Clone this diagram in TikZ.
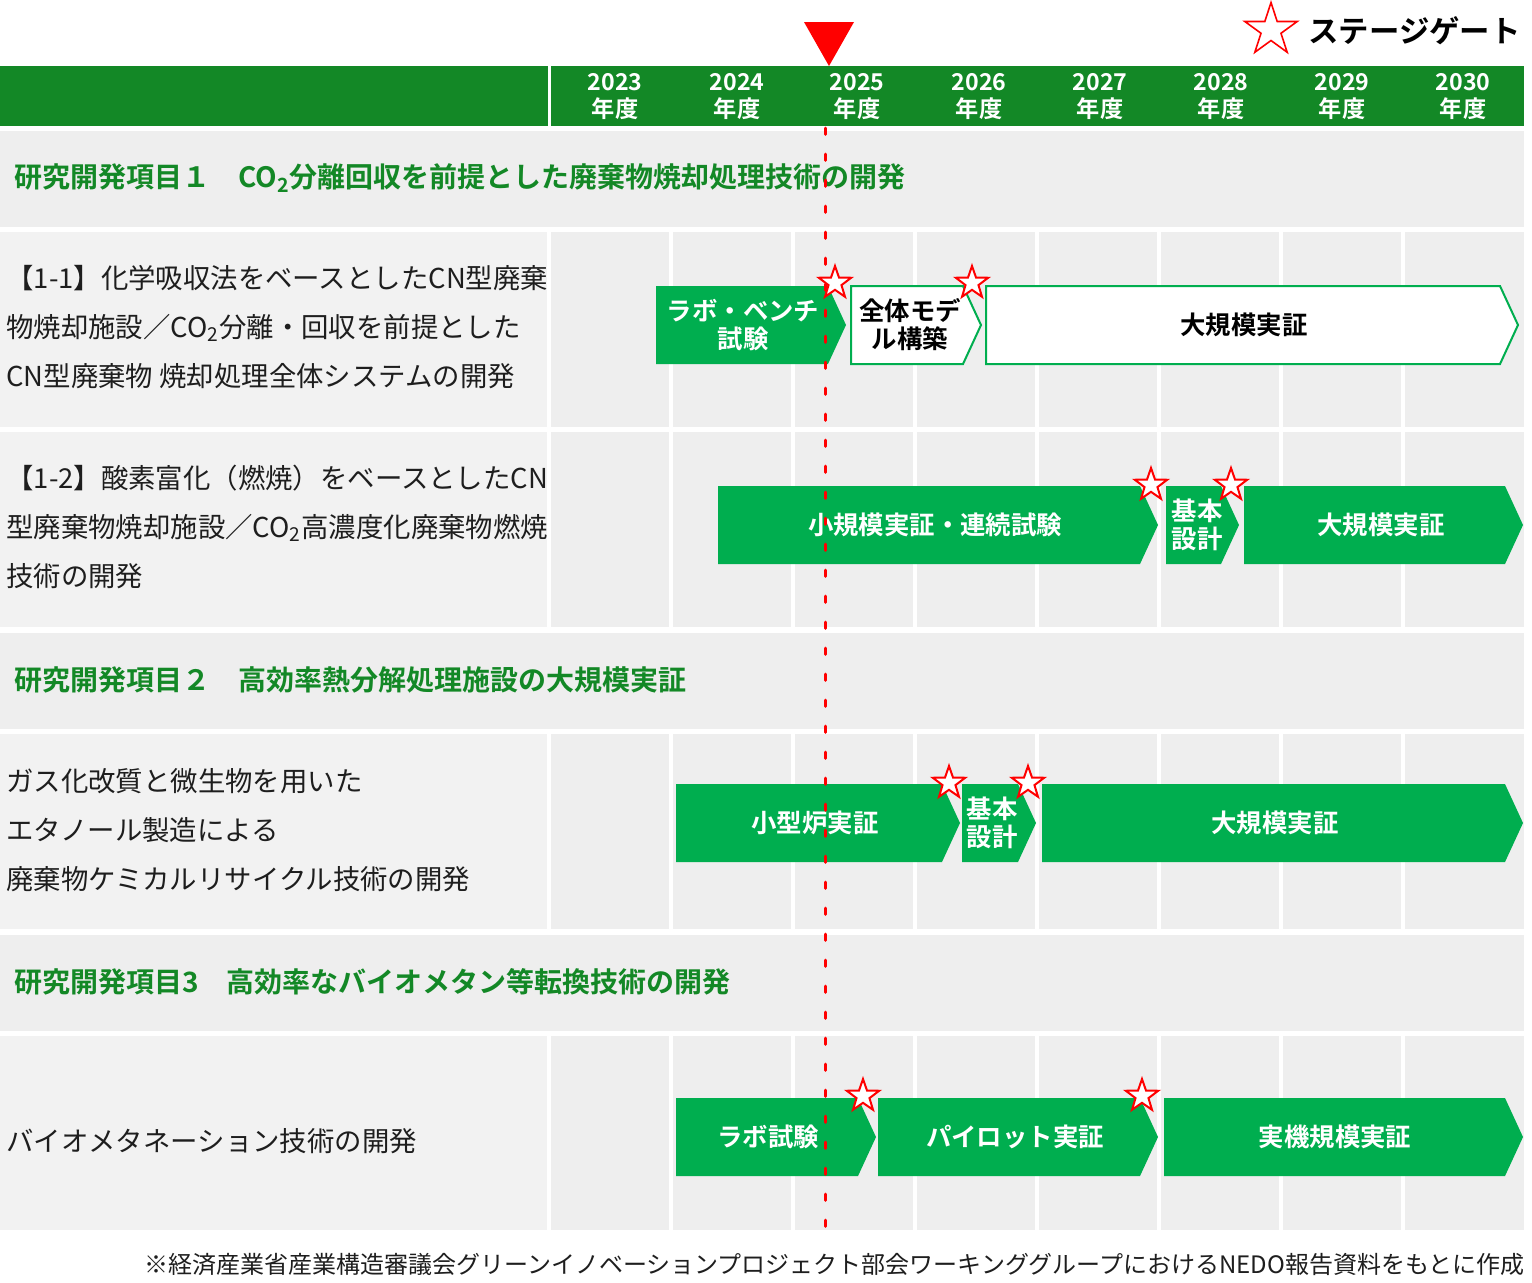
\documentclass[tikz,border=0pt]{standalone}
\usepackage{fontspec}
\setmainfont{Noto Sans CJK JP}[BoldFont={Noto Sans CJK JP Bold}]
\usetikzlibrary{shapes.geometric}
\definecolor{hdr}{RGB}{19,136,38}
\definecolor{barg}{RGB}{0,174,79}
\definecolor{rowg}{RGB}{238,238,238}
\definecolor{leftg}{RGB}{242,242,242}
\definecolor{txt}{RGB}{30,30,30}
\newcommand{\chevpath}[5]{%
  \path[#1] (#2,#4) -- ({#3-18},#4) -- (#3,{(#4+#5)/2}) -- ({#3-18},#5) -- (#2,#5) -- cycle;}
\begin{document}
\begin{tikzpicture}[x=0.5pt,y=-0.5pt,
  gbar/.style={fill=barg},
  wbar/.style={fill=white,draw=barg,line width=1pt},
  btxt/.style={font=\bfseries\fontsize{12.7}{14}\selectfont,text=white,align=center,inner sep=0pt},
  wtxt/.style={btxt,text=black},
  gate/.style={star,star points=5,star point ratio=2.5,draw=red,fill=white,line width=1pt,minimum size=17pt,inner sep=0pt},
  yr/.style={font=\bfseries\fontsize{11.6}{13.5}\selectfont,text=white,align=center,inner sep=0pt},
  sect/.style={font=\bfseries\fontsize{14}{16}\selectfont,text=hdr,anchor=west,inner sep=0pt},
  desc/.style={font=\fontsize{13.7}{24.5}\selectfont,text=txt,anchor=west,align=left,inner sep=0pt},
  gridline/.style={white,line width=2pt},
]
\useasboundingbox[fill=white] (0,0) rectangle (1532,1282);
% header
\fill[hdr] (0,66) rectangle (1524,126);
\draw[white,line width=1.5pt] (549,66) -- (549,126);
% section rows
\foreach \a/\b in {131/227,633/729,935/1031}{
  \fill[rowg] (0,\a) rectangle (1524,\b);}
% data rows
\foreach \a/\b in {232/427,432/627,734/929,1036/1230}{
  \fill[rowg] (0,\a) rectangle (1524,\b);
  \fill[leftg] (0,\a) rectangle (547,\b);
  \foreach \c in {549,671,793,915,1037,1159,1281,1403}{
    \draw[gridline] (\c,\a) -- (\c,\b);}}
% years
\foreach \x/\y [count=\i] in {615/2023,737/2024,857/2025,979/2026,1100/2027,1221/2028,1342/2029,1463/2030}{
  \node[yr] (yr\i) at (\x,97) {\y\\年度};}
% section titles
\node[sect] (s1) at (14,178) {研究開発項目１　CO\textsubscript{2}分離回収を前提とした廃棄物焼却処理技術の開発};
\node[sect] (s2) at (14,680) {研究開発項目２　高効率熱分解処理施設の大規模実証};
\node[sect] (s3) at (14,982) {研究開発項目3　高効率なバイオメタン等転換技術の開発};
% descriptions
\node[desc] (d1) at (6,327) {【1-1】化学吸収法をベースとしたCN型廃棄\\物焼却施設／CO\textsubscript{2}分離・回収を前提とした\\CN型廃棄物 焼却処理全体システムの開発};
\node[desc] (d2) at (6,527) {【1-2】酸素富化（燃焼）をベースとしたCN\\型廃棄物焼却施設／CO\textsubscript{2}高濃度化廃棄物燃焼\\技術の開発};
\node[desc] (d3) at (6,830) {ガス化改質と微生物を用いた\\エタノール製造による\\廃棄物ケミカルリサイクル技術の開発};
\node[desc] (d4) at (6,1141) {バイオメタネーション技術の開発};
% bars row B
\chevpath{gbar}{656}{846}{286}{364}
\chevpath{wbar}{851}{981}{286}{364}
\chevpath{wbar}{986}{1518}{286}{364}
\node[btxt] (b1) at (743,325) {ラボ・ベンチ\\試験};
\node[wtxt] (b2) at (910,325) {全体モデ\\ル構築};
\node[wtxt] (b3) at (1244,325) {大規模実証};
% bars row C
\chevpath{gbar}{718}{1158}{486}{564}
\chevpath{gbar}{1166}{1239}{486}{564}
\chevpath{gbar}{1244}{1523}{486}{564}
\node[btxt] (c1) at (935,525) {小規模実証・連続試験};
\node[btxt] (c2) at (1197,525) {基本\\設計};
\node[btxt] (c3) at (1381,525) {大規模実証};
% bars row E
\chevpath{gbar}{676}{960}{784}{862}
\chevpath{gbar}{962}{1036}{784}{862}
\chevpath{gbar}{1042}{1523}{784}{862}
\node[btxt] (e1) at (815,823) {小型炉実証};
\node[btxt] (e2) at (992,823) {基本\\設計};
\node[btxt] (e3) at (1275,823) {大規模実証};
% bars row G
\chevpath{gbar}{676}{876}{1098}{1176}
\chevpath{gbar}{878}{1158}{1098}{1176}
\chevpath{gbar}{1164}{1523}{1098}{1176}
\node[btxt] (g1) at (768,1137) {ラボ試験};
\node[btxt] (g2) at (1015,1137) {パイロット実証};
\node[btxt] (g3) at (1335,1137) {実機規模実証};
% current year line
\coordinate (lt) at (825,128);
\coordinate (lb) at (825,1230);
\draw[red,line width=1.5pt,line cap=round,dash pattern=on 3.2pt off 9.8pt] (lt) -- (lb);
% stage gates
\node[gate] (st1) at (835,283) {};
\node[gate] (st2) at (972,283) {};
\node[gate] (st3) at (1151,485) {};
\node[gate] (st4) at (1231,485) {};
\node[gate] (st5) at (949,783) {};
\node[gate] (st6) at (1028,783) {};
\node[gate] (st7) at (863,1096) {};
\node[gate] (st8) at (1142,1096) {};
% triangle marker
\fill[red] (804,22) -- (854,22) -- (829,66) -- cycle;
% legend
\node[star,star points=5,star point ratio=2.618,draw=red,line width=0.8pt,minimum size=27.5pt,inner sep=0pt] (lgs) at (1271,30) {};
\node[font=\bfseries\fontsize{15.2}{18}\selectfont,anchor=west,inner sep=0pt] (lgt) at (1308,31) {ステージゲート};
% footer
\node[font=\fontsize{12}{14}\selectfont,anchor=east,inner sep=0pt,text=txt] (ft) at (1525,1264) {※経済産業省産業構造審議会グリーンイノベーションプロジェクト部会ワーキンググループにおけるNEDO報告資料をもとに作成};
\end{tikzpicture}
\end{document}
